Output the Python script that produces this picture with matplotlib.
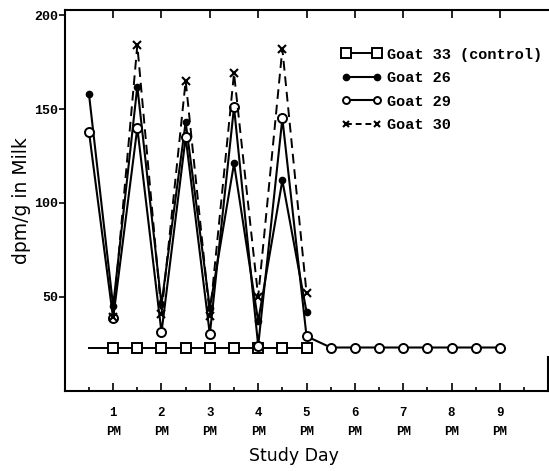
import matplotlib
matplotlib.use("Agg")
import matplotlib.pyplot as plt
from matplotlib.lines import Line2D

# sampling times (study day, PM samples on whole days)
t_main = [0.5, 1, 1.5, 2, 2.5, 3, 3.5, 4, 4.5, 5]
t_ctrl = [0.5, 1, 1.5, 2, 2.5, 3, 3.5, 4, 4.5, 5]
t_g30 = [1, 1.5, 2, 2.5, 3, 3.5, 4, 4.5, 5]
t_g29 = [0.5, 1, 1.5, 2, 2.5, 3, 3.5, 4, 4.5, 5, 5.5, 6, 6.5, 7, 7.5, 8, 8.5, 9]

# dpm/g in milk
goat33 = [22.5, 22.5, 22.5, 22.5, 22.5, 22.5, 22.5, 22.5, 22.5, 22.5]
goat26 = [158, 45, 162, 46, 143, 44, 121, 37, 112, 42]
goat29 = [138, 38.5, 140, 31, 135, 30, 151, 24, 145, 29,
          23, 23, 23, 23, 23, 23, 23, 23]
goat30 = [39, 184, 41, 165, 40, 169, 50, 182, 52]

day_ticks = [1, 2, 3, 4, 5, 6, 7, 8, 9]
day_labels = ["%d\nPM" % d for d in day_ticks]
y_ticks = [50, 100, 150, 200]

mono = {"family": "Liberation Mono", "weight": "bold"}

fig = plt.figure(figsize=(5.49, 4.71), dpi=100)
ax = fig.add_axes([0.118, 0.1705, 0.8807, 0.8093])

ax.plot(t_ctrl, goat33, color="black", lw=1.4, marker="s", ms=7,
        mfc="white", mec="black", mew=1.4, markevery=list(range(1, len(t_ctrl))))
ax.plot(t_main, goat26, color="black", lw=1.5, marker="o", ms=4.5,
        mfc="black", mec="black")
ax.plot(t_g29, goat29, color="black", lw=1.5, marker="o", ms=6.5,
        mfc="white", mec="black", mew=1.4)
ax.plot(t_g30, goat30, color="black", lw=1.4, ls=(0, (5, 3)), marker="x",
        ms=6, mec="black", mew=1.5)

ax.set_xlim(0, 10)
ax.set_ylim(0, 203)

ax.set_xticks(day_ticks)
ax.set_xticklabels(day_labels, fontdict=mono, fontsize=9, linespacing=1.75)
ax.set_xticks([d + 0.5 for d in range(10)], minor=True)
ax.set_yticks(y_ticks)
ax.set_yticklabels([str(v) for v in y_ticks], fontdict=mono, fontsize=9.5)

ax.tick_params(axis="x", which="major", direction="in", length=6, width=1.2,
               top=True, pad=12)
ax.tick_params(axis="x", which="minor", direction="in", length=3, width=1.2,
               top=False)
ax.tick_params(axis="y", direction="out", length=4, width=1.2, pad=1)

for s in ax.spines.values():
    s.set_linewidth(1.5)
ax.spines["right"].set_bounds(0, 18)

ax.set_ylabel("dpm/g in Milk", fontsize=13.5)
ax.yaxis.set_label_coords(-0.07, 0.50)
ax.set_xlabel("Study Day", fontsize=12.5)
ax.xaxis.set_label_coords(0.473, -0.148)

handles = [
    Line2D([], [], color="black", lw=1.4, marker="s", ms=7, mfc="white", mew=1.4),
    Line2D([], [], color="black", lw=1.5, marker="o", ms=4.5, mfc="black"),
    Line2D([], [], color="black", lw=1.5, marker="o", ms=5, mfc="white", mew=1.4),
    Line2D([], [], color="black", lw=1.4, ls=(0, (3, 2)), marker="x", ms=5, mew=1.5),
]
labels = ["Goat 33 (control)", "Goat 26", "Goat 29", "Goat 30"]
fig.legend(handles, labels, loc="upper left", bbox_to_anchor=(0.622, 0.899),
           frameon=False, numpoints=2, handlelength=2.6, handletextpad=0.4,
           labelspacing=0.62, borderpad=0, borderaxespad=0,
           prop={"family": "Liberation Mono", "weight": "bold", "size": 11})

fig.savefig("out.png", dpi=100)
